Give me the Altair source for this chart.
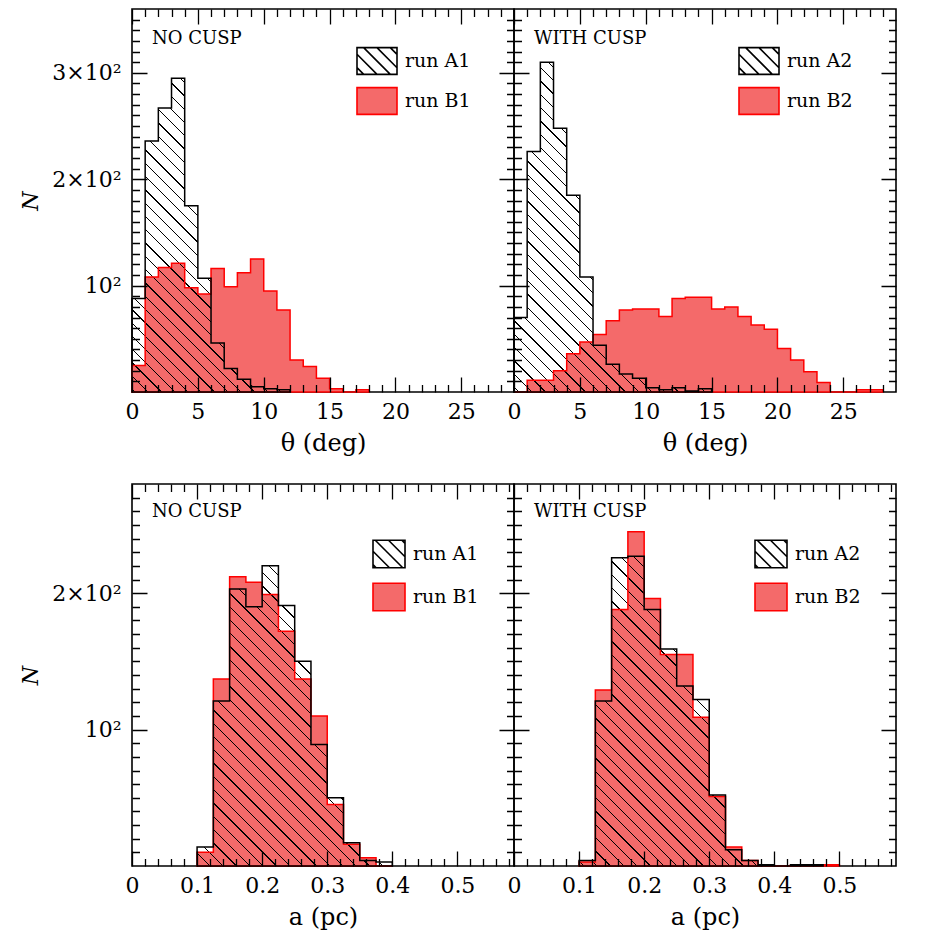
import altair as alt
import numpy as np
import pandas as pd

# ---------------- data: counts per bin ----------------
theta_start = 0.0
theta_bin = 1.0          # deg
theta_A1 = [88, 236, 267, 295, 175, 107, 46, 22, 12, 5, 3, 2]
theta_B1 = [25, 108, 117, 121, 98, 92, 116, 99, 112, 125, 95, 77, 30, 24, 13, 3, 0, 2]
theta_A2 = [70, 226, 310, 248, 185, 108, 44, 26, 17, 13, 4, 2, 4, 1, 3]
theta_B2 = [0, 11, 11, 20, 36, 47, 54, 67, 77, 78, 78, 71, 88, 89, 89, 78, 80, 71,
            63, 59, 41, 30, 19, 9, 0, 0, 2, 2]

a_start = 0.1
a_bin = 0.025            # pc
a_A1 = [14, 121, 203, 190, 220, 191, 150, 89, 50, 17, 4, 3]
a_B1 = [10, 137, 212, 208, 199, 172, 137, 110, 45, 16, 6, 0]
a_A2 = [4, 121, 226, 227, 188, 159, 132, 122, 52, 12, 4, 1, 0, 1, 1]
a_B2 = [3, 129, 188, 245, 196, 155, 155, 109, 51, 14, 4, 0, 0, 1, 0, 1]

theta_ticks = [0, 5, 10, 15, 20, 25]
theta_minor = [v for v in range(1, 29) if v % 5]
a_ticks = [0, 0.1, 0.2, 0.3, 0.4, 0.5]
a_minor = [round(0.02 * i, 2) for i in range(1, 30) if i % 5]
n_ticks_top = [100, 200, 300]
n_minor_top = [v for v in range(10, 360, 10) if v % 100]
n_ticks_bot = [100, 200]
n_minor_bot = [v for v in range(10, 280, 10) if v % 100]

RED_FILL = "#f46a6a"
RED_LINE = "#ff0000"
FONT = "DejaVu Serif"
W = 382
H_TOP = 383
H_BOT = 382


def hist_df(counts, start, width):
    edges = [start + width * i for i in range(len(counts) + 1)]
    return pd.DataFrame({"x": edges, "n": list(counts) + [0]})


def hatch_fill(counts, binw, x_span, y_max, h_px, period=13.3, thick=1.3):
    bw = len(counts) * binw * W / x_span
    bh = max(counts) * h_px / y_max
    L = bw + bh
    clear = "rgba(0,0,0,0)"
    stops = [{"offset": 0, "color": clear}]
    s = 3.0
    while s + thick < L:
        a = round(s / L, 6)
        b = round((s + thick) / L, 6)
        stops += [{"offset": a, "color": clear}, {"offset": a, "color": "black"},
                  {"offset": b, "color": "black"}, {"offset": b, "color": clear}]
        s += period
    stops.append({"offset": 1, "color": clear})
    k = L / (bw * bw + bh * bh)
    return {"gradient": "linear", "x1": 1, "y1": 0,
            "x2": round(1 - bw * k, 6), "y2": round(bh * k, 6), "stops": stops}


def box_path(ry, spacing=None):
    p = f"M-1,{-ry}H1V{ry}H-1Z"
    if spacing:
        m = int((1 + ry) / spacing) + 1
        for i in range(-m, m + 1):
            c = i * spacing
            x0 = max(-1.0, -ry - c)
            x1 = min(1.0, ry - c)
            if x1 - x0 > 0.08:
                p += f" M{x0:.3f},{x0 + c:.3f}L{x1:.3f},{x1 + c:.3f}"
    return p


def panel(A, B, start, binw, names, xdom, ydom, H, xmaj, xmin, ymaj, ymin,
          xfmt, xtitle, left, label, label_y, leg_x, leg_y, sym_w, ry, rowpad):
    dfA = hist_df(A, start, binw)
    dfB = hist_df(B, start, binw)
    dfL = pd.concat([dfA.assign(run=names[0]), dfB.assign(run=names[1])])
    xs = alt.Scale(domain=xdom, nice=False, zero=False)
    ys = alt.Scale(domain=ydom, nice=False, zero=False)
    grid = dict(grid=True, gridColor="black", gridOpacity=1, gridWidth=1.3,
                ticks=False, domain=False, zindex=1)
    x_major = alt.Axis(values=xmaj, orient="bottom", format=xfmt, labelFont=FONT,
                       labelFontSize=22, labelColor="black", labelPadding=9,
                       labelFlush=False, labelOverlap=False, title=xtitle,
                       titleFont=FONT, titleFontSize=24, titleFontWeight="normal",
                       titleColor="black", titlePadding=9,
                       gridDash=[15, H - 30, 15], **grid)
    if left:
        y_major = alt.Axis(values=ymaj, orient="left",
                           labelExpr="datum.value == 100 ? '10²' : format(datum.value / 100, 'd') + '×10²'",
                           labelFont=FONT, labelFontSize=22, labelColor="black",
                           labelPadding=11, labelFlush=False, labelOverlap=False,
                           minExtent=84, maxExtent=84, title="N", titleFont=FONT,
                           titleFontSize=22, titleFontStyle="italic",
                           titleFontWeight="normal", titleColor="black",
                           titlePadding=6, gridDash=[15, W - 30, 15], **grid)
    else:
        y_major = alt.Axis(values=ymaj, orient="left", labels=False, title=None,
                           minExtent=0, maxExtent=0, gridDash=[15, W - 30, 15], **grid)
    x_minor = alt.Axis(values=xmin, orient="top", labels=False, title=None,
                       minExtent=0, maxExtent=0, gridDash=[7.5, H - 15, 7.5], **grid)
    y_minor = alt.Axis(values=ymin, orient="right", labels=False, title=None,
                       minExtent=0, maxExtent=0, gridDash=[7.5, W - 15, 7.5], **grid)

    def xy(axx=None, axy=None):
        return dict(x=alt.X("x:Q", scale=xs, axis=axx),
                    y=alt.Y("n:Q", scale=ys, axis=axy, stack=None))

    red_fill = alt.Chart(dfB).mark_area(interpolate="step-after", fill=RED_FILL,
                                         strokeWidth=0).encode(**xy(x_major, y_major))
    hatch = alt.Chart(dfA).mark_area(
        interpolate="step-after", strokeWidth=0,
        fill=hatch_fill(A, binw, xdom[1] - xdom[0], ydom[1], H)).encode(**xy())
    red_out = alt.Chart(dfB).mark_area(interpolate="step-after", fillOpacity=0,
                                        stroke=RED_LINE, strokeWidth=1.5).encode(**xy())
    blk_out = alt.Chart(dfA).mark_area(interpolate="step-after", fillOpacity=0,
                                        stroke="black", strokeWidth=1.5).encode(**xy())
    leg = alt.Legend(orient="none", legendX=leg_x, legendY=leg_y, title=None,
                     padding=0, symbolSize=sym_w * sym_w, symbolStrokeWidth=1.6,
                     symbolOpacity=1, labelFont=FONT, labelFontSize=19,
                     labelColor="black", labelOffset=7, rowPadding=rowpad,
                     labelLimit=300)
    spacing = 13.3 / (sym_w / 2)
    legend_pts = alt.Chart(dfL).mark_point(opacity=0, filled=True).encode(
        **xy(x_minor, y_minor),
        fill=alt.Fill("run:N", scale=alt.Scale(domain=names, range=["white", RED_FILL]), legend=leg),
        stroke=alt.Stroke("run:N", scale=alt.Scale(domain=names, range=["black", RED_LINE]), legend=leg),
        shape=alt.Shape("run:N", scale=alt.Scale(domain=names,
                                                 range=[box_path(ry, spacing), box_path(ry)]),
                        legend=leg),
    )
    text = alt.Chart(pd.DataFrame({"t": [label]})).mark_text(
        align="left", baseline="middle", font=FONT, fontSize=18, color="black"
    ).encode(text="t:N", x=alt.value(20), y=alt.value(label_y))

    return alt.layer(red_fill, hatch, red_out, blk_out, legend_pts, text).resolve_axis(
        x="independent", y="independent").properties(width=W, height=H)


p1 = panel(theta_A1, theta_B1, theta_start, theta_bin, ["run A1", "run B1"], [0, 29], [0, 360],
           H_TOP, theta_ticks, theta_minor, n_ticks_top, n_minor_top, "d", "θ (deg)", True,
           "NO CUSP", 30, 224, 31, 40, 0.667, 2)
p2 = panel(theta_A2, theta_B2, theta_start, theta_bin, ["run A2", "run B2"], [0, 29], [0, 360],
           H_TOP, theta_ticks, theta_minor, n_ticks_top, n_minor_top, "d", "θ (deg)", False,
           "WITH CUSP", 30, 224, 31, 40, 0.667, 2)
p3 = panel(a_A1, a_B1, a_start, a_bin, ["run A1", "run B1"], [0, 0.587], [0, 280],
           H_BOT, a_ticks, a_minor, n_ticks_bot, n_minor_bot, ".1~f", "a (pc)", True,
           "NO CUSP", 28, 240, 53, 32, 0.86, 9)
p4 = panel(a_A2, a_B2, a_start, a_bin, ["run A2", "run B2"], [0, 0.587], [0, 280],
           H_BOT, a_ticks, a_minor, n_ticks_bot, n_minor_bot, ".1~f", "a (pc)", False,
           "WITH CUSP", 28, 240, 53, 32, 0.86, 9)

indep = dict(fill="independent", stroke="independent", shape="independent")
row1 = alt.hconcat(p1, p2, spacing=0, bounds="flush").resolve_scale(**indep)
row2 = alt.hconcat(p3, p4, spacing=0, bounds="flush").resolve_scale(**indep)

chart = alt.vconcat(row1, row2, spacing=27).resolve_scale(
    **indep
).properties(
    padding={"left": 10, "top": 0, "right": 10, "bottom": 10},
    background="white",
).configure_view(stroke="black", strokeWidth=1.6)

chart.save("out.html", embed_options={"renderer": "svg", "actions": False})
